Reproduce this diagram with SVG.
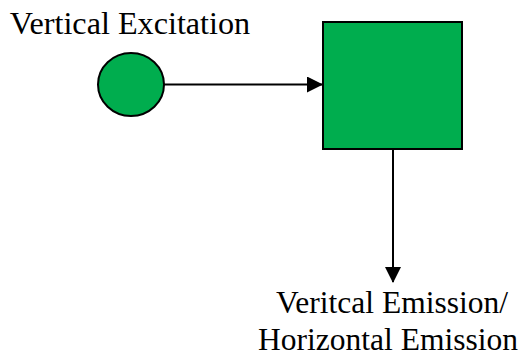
<svg xmlns="http://www.w3.org/2000/svg" width="526" height="360" viewBox="0 0 526 360">
<style>
.shape{fill:#00AD4E;stroke:#000;stroke-width:2}
.lbl{font-family:"Liberation Serif","Times New Roman",serif;font-size:31.5px;fill:#000}
.conn{stroke:#000;stroke-width:2;fill:none}
</style>
<defs>
<marker id="ah" markerWidth="16" markerHeight="16" refX="15" refY="8" orient="auto" markerUnits="userSpaceOnUse">
<path d="M0,0 L16,8 L0,16 Z" fill="#000"/>
</marker>
</defs>
<rect width="526" height="360" fill="#fff"/>
<g id="excitation">
<ellipse class="shape" cx="131" cy="84.5" rx="33" ry="31.5"/>
<text class="lbl" x="130" y="34" text-anchor="middle" style="font-size:32.2px">Vertical Excitation</text>
</g>
<g id="sample">
<rect class="shape" x="323" y="22" width="139" height="127"/>
</g>
<g id="emission">
<text class="lbl" x="392" y="313" text-anchor="middle">Veritcal Emission/</text>
<text class="lbl" x="388" y="350" text-anchor="middle">Horizontal Emission</text>
</g>
<g id="connectors">
<line class="conn" x1="164" y1="84.5" x2="322" y2="84.5" marker-end="url(#ah)"/>
<line class="conn" x1="393" y1="150" x2="393" y2="282" marker-end="url(#ah)"/>
</g>
</svg>
